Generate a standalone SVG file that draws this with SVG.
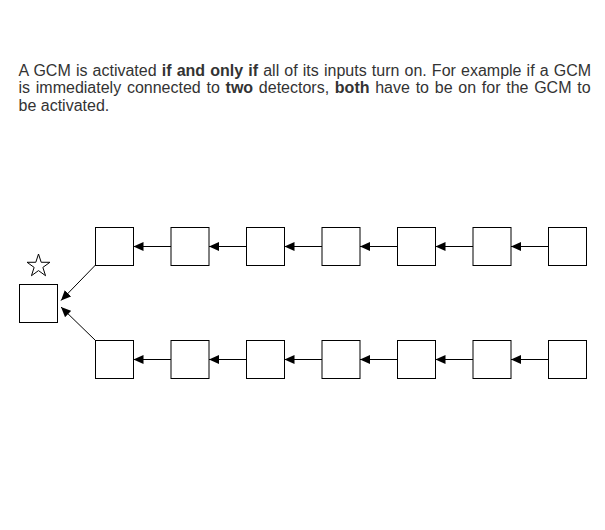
<svg xmlns="http://www.w3.org/2000/svg" width="605" height="530" viewBox="0 0 605 530">
<style>
.t{font-family:"Liberation Sans",Arial,sans-serif;font-size:16px;fill:#333}
.b{font-weight:bold}
.box{fill:#fff;stroke:#000;stroke-width:1}
.edge{stroke:#000;stroke-width:1;fill:none;marker-end:url(#ah)}
</style>
<defs>
<marker id="ah" viewBox="0 0 10 9" refX="10" refY="4.5" markerWidth="10" markerHeight="9" markerUnits="userSpaceOnUse" orient="auto">
<path d="M0,0 L10,4.5 L0,9 z" fill="#000"/>
</marker>
</defs>
<rect width="605" height="530" fill="#fff"/>
<g id="caption">
<text class="t" x="18.5" y="76" word-spacing="0.69">A GCM is activated <tspan class="b">if and only if</tspan> all of its inputs turn on. For example if a GCM</text>
<text class="t" x="18.5" y="93.3" word-spacing="1.29">is immediately connected to <tspan class="b">two</tspan> detectors, <tspan class="b">both</tspan> have to be on for the GCM to</text>
<text class="t" x="18.5" y="110.5">be activated.</text>
</g>
<g id="connectors">
<line class="edge" x1="95.5" y1="265" x2="61" y2="300.5"/>
<line class="edge" x1="95.5" y1="340.5" x2="61" y2="307"/>
<line class="edge" x1="171" y1="246.5" x2="133.5" y2="246.5"/>
<line class="edge" x1="246.5" y1="246.5" x2="209" y2="246.5"/>
<line class="edge" x1="322" y1="246.5" x2="284.5" y2="246.5"/>
<line class="edge" x1="397.5" y1="246.5" x2="360" y2="246.5"/>
<line class="edge" x1="473" y1="246.5" x2="435.5" y2="246.5"/>
<line class="edge" x1="548.5" y1="246.5" x2="511" y2="246.5"/>
<line class="edge" x1="171" y1="359.5" x2="133.5" y2="359.5"/>
<line class="edge" x1="246.5" y1="359.5" x2="209" y2="359.5"/>
<line class="edge" x1="322" y1="359.5" x2="284.5" y2="359.5"/>
<line class="edge" x1="397.5" y1="359.5" x2="360" y2="359.5"/>
<line class="edge" x1="473" y1="359.5" x2="435.5" y2="359.5"/>
<line class="edge" x1="548.5" y1="359.5" x2="511" y2="359.5"/>
</g>
<g id="gcm">
<rect class="box" x="19.5" y="284.5" width="38" height="38"/>
<polygon points="38.5,254 41.2,262.28 49.91,262.29 42.87,267.42 45.55,275.71 38.5,270.6 31.45,275.71 34.13,267.42 27.09,262.29 35.8,262.28" fill="#fff" stroke="#000" stroke-width="1"/>
</g>
<g id="top1"><rect class="box" x="95.5" y="227.5" width="38" height="38"/></g>
<g id="top2"><rect class="box" x="171" y="227.5" width="38" height="38"/></g>
<g id="top3"><rect class="box" x="246.5" y="227.5" width="38" height="38"/></g>
<g id="top4"><rect class="box" x="322" y="227.5" width="38" height="38"/></g>
<g id="top5"><rect class="box" x="397.5" y="227.5" width="38" height="38"/></g>
<g id="top6"><rect class="box" x="473" y="227.5" width="38" height="38"/></g>
<g id="top7"><rect class="box" x="548.5" y="227.5" width="38" height="38"/></g>
<g id="bot1"><rect class="box" x="95.5" y="340.5" width="38" height="38"/></g>
<g id="bot2"><rect class="box" x="171" y="340.5" width="38" height="38"/></g>
<g id="bot3"><rect class="box" x="246.5" y="340.5" width="38" height="38"/></g>
<g id="bot4"><rect class="box" x="322" y="340.5" width="38" height="38"/></g>
<g id="bot5"><rect class="box" x="397.5" y="340.5" width="38" height="38"/></g>
<g id="bot6"><rect class="box" x="473" y="340.5" width="38" height="38"/></g>
<g id="bot7"><rect class="box" x="548.5" y="340.5" width="38" height="38"/></g>
</svg>
